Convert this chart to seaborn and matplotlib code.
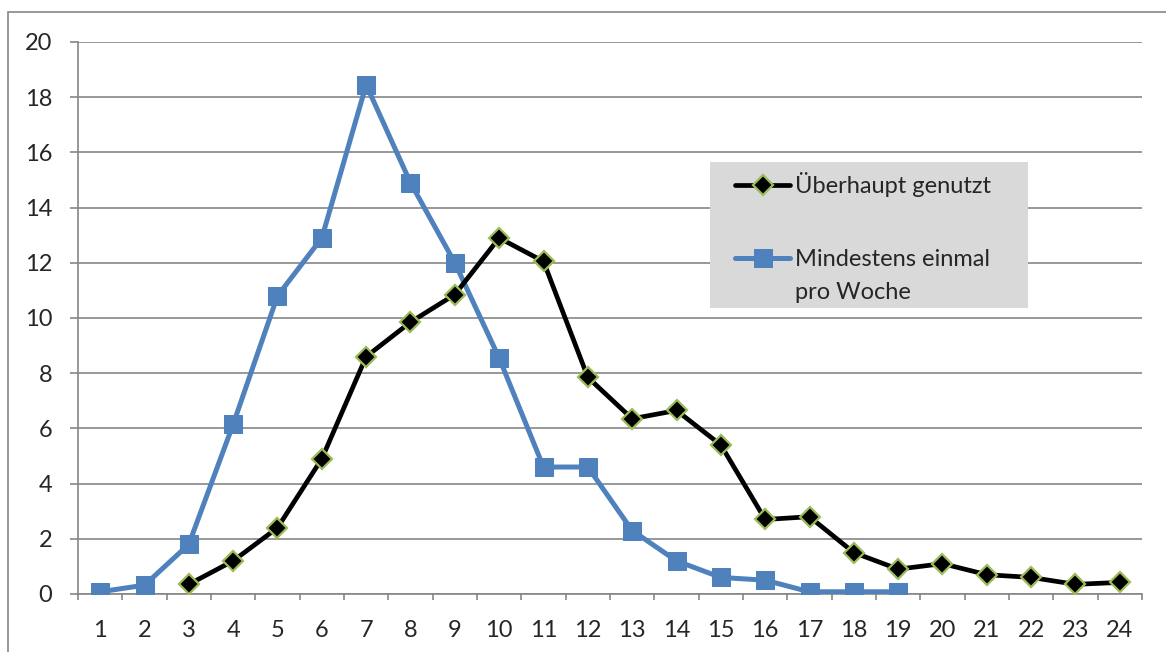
import pandas as pd
import seaborn as sns
import matplotlib.pyplot as plt
from matplotlib.patches import Rectangle

categories = list(range(1, 25))
ueberhaupt_x = list(range(3, 25))
ueberhaupt = [0.35, 1.2, 2.4, 4.9, 8.6, 9.85, 10.85, 12.9, 12.05, 7.85, 6.35, 6.65,
              5.4, 2.7, 2.8, 1.5, 0.9, 1.1, 0.7, 0.6, 0.35, 0.42]
woche_x = list(range(1, 20))
woche = [0.08, 0.32, 1.8, 6.15, 10.8, 12.9, 18.45, 14.9, 12.0, 8.55, 4.6, 4.6,
         2.3, 1.2, 0.6, 0.5, 0.08, 0.08, 0.08]
y_ticks = list(range(0, 21, 2))

sns.set_style("white")
plt.rcParams['font.family'] = ['Lato', 'DejaVu Sans']

W, H = 1166, 652
fig = plt.figure(figsize=(W / 100, H / 100), dpi=100)
ax = fig.add_axes([78 / W, 1 - 594 / H, (1142 - 78) / W, (594 - 42) / H])

# outer chart frame
fig.patches.append(Rectangle((8 / W, -0.1), 1.2, 1.1 - 12 / H, transform=fig.transFigure,
                             fill=False, edgecolor='#868686', linewidth=1.2, zorder=0))
# grey legend box
ax.add_patch(Rectangle((710 / W, 1 - 308 / H), (1028 - 710) / W, (308 - 162) / H,
                       transform=fig.transFigure, facecolor='#d9d9d9',
                       edgecolor='none', zorder=5, clip_on=False))

df1 = pd.DataFrame({"x": ueberhaupt_x, "y": ueberhaupt})
df2 = pd.DataFrame({"x": woche_x, "y": woche})

sns.lineplot(data=df2, x="x", y="y", ax=ax, color='#4f81bd', linewidth=3.6,
             marker='s', markersize=13, markeredgecolor='#4f81bd', markerfacecolor='#4f81bd',
             label="Mindestens einmal", zorder=3)
sns.lineplot(data=df1, x="x", y="y", ax=ax, color='black', linewidth=3.4,
             marker='D', markersize=10.5, markeredgecolor='#9bbb59', markerfacecolor='black',
             markeredgewidth=1.6, label="Überhaupt genutzt", zorder=4)

ax.set_xlim(0.5, 24.5)
ax.set_ylim(0, 20)
ax.set_yticks(y_ticks)
ax.set_xticks(categories)
ax.set_xticks([c + 0.5 for c in range(0, 25)], minor=True)
ax.set_xlabel("")
ax.set_ylabel("")
ax.grid(axis='y', color='#868686', linewidth=1.2)
ax.set_axisbelow(True)
for s in ['top', 'right']:
    ax.spines[s].set_visible(False)
for s in ['left', 'bottom']:
    ax.spines[s].set_color('#868686')
    ax.spines[s].set_linewidth(1.2)
ax.tick_params(axis='y', which='major', length=5.5, color='#868686', width=1.2,
               labelsize=17, pad=13, left=True)
ax.tick_params(axis='x', which='major', length=0, labelsize=17, pad=19)
ax.tick_params(axis='x', which='minor', length=4.5, color='#868686', width=1.2, bottom=True)

handles, labels = ax.get_legend_handles_labels()
leg = ax.legend(handles[::-1], labels[::-1], loc='upper left',
                bbox_to_anchor=(735 / W, 1 - 172 / H), bbox_transform=fig.transFigure,
                frameon=False, fontsize=17, labelspacing=2.2, handlelength=2.35,
                handletextpad=0.2, borderpad=0, borderaxespad=0)
leg.set_zorder(6)

# second line of the blue series label
ax.annotate("pro Woche", xy=(0, 0.5), xycoords=leg.get_texts()[1],
            xytext=(0, -33), textcoords='offset pixels', ha='left', va='center',
            fontsize=17, zorder=7)

fig.savefig("out.png", dpi=100)
